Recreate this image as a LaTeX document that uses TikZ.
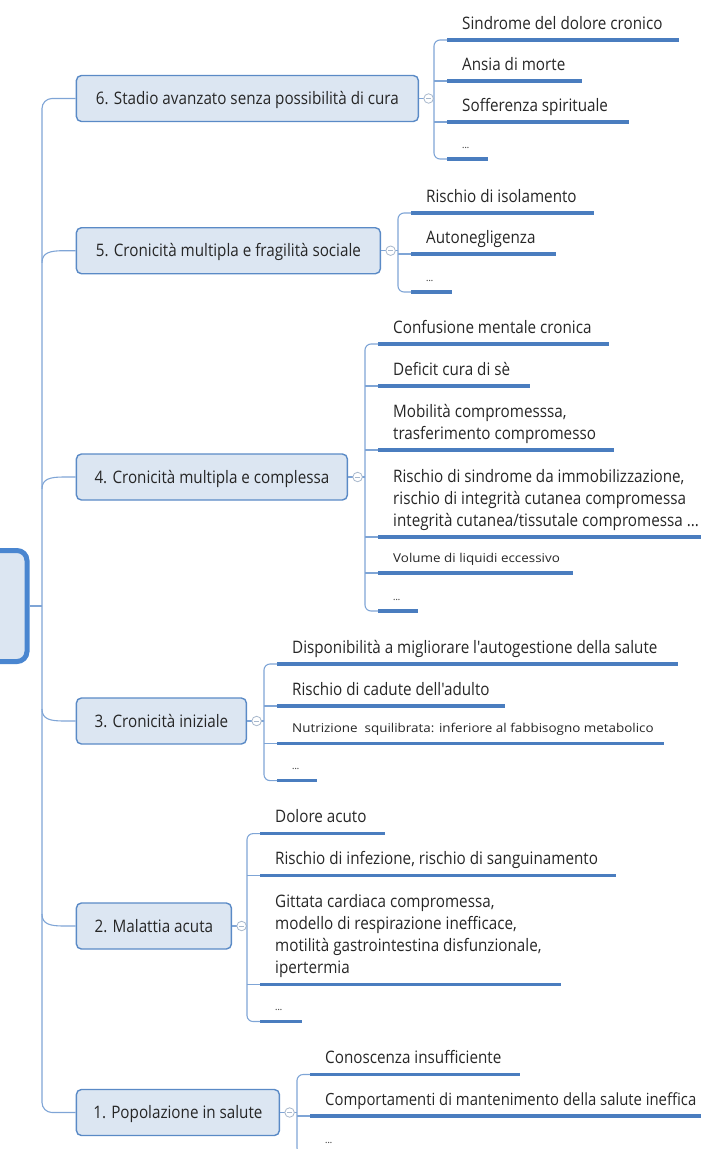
\documentclass[tikz,border=0pt]{standalone}
\usepackage{fontspec}
\setmainfont{Open Sans}[FakeStretch=0.885, Ligatures=TeXOff]
\newfontfamily\smallfont{Open Sans}[FakeStretch=1.1, Ligatures=TeXOff]
\definecolor{nodefill}{HTML}{DCE6F2}
\definecolor{nodeblue}{HTML}{5A8AC6}
\definecolor{rootblue}{HTML}{4A86D0}
\definecolor{connblue}{HTML}{7FA5D6}
\definecolor{ulblue}{HTML}{4A7DBF}
\definecolor{togglegray}{HTML}{A8B8CC}
\definecolor{txtgray}{HTML}{262626}
\newcommand\mainsz{\fontsize{17.2}{22}\selectfont}
\newcommand\edgesz{\fontsize{16.8}{22}\selectfont}
\newcommand\smallsz{\smallfont\fontsize{12.2}{15}\selectfont}
\newcommand\dotsz{\fontsize{10}{12}\selectfont}
\newcommand\leafentry[6]{% style, name, bx, uy, uend, text
  \coordinate (#2s) at (#3+13,#4);
  \draw[uline] (#2s) -- (#5,#4);
  \node[#1] (#2) at (#3+28,#4-11) {#6};
}
\begin{document}
\begin{tikzpicture}[x=1pt,y=-1pt,
  topic/.style={draw=nodeblue, line width=1.4pt, fill=nodefill, rounded corners=5pt,
    anchor=west, minimum height=46pt, inner sep=0pt, text height=12pt, text depth=0pt,
    font=\mainsz, text=txtgray},
  conn/.style={draw=connblue, line width=1.1pt},
  uline/.style={draw=ulblue, line width=3.2pt},
  leaf/.style={anchor=base west, inner sep=0pt, font=\mainsz, text=txtgray, align=left},
  edgeleaf/.style={leaf, font=\edgesz},
  smallleaf/.style={leaf, font=\smallsz},
  dotleaf/.style={leaf, font=\dotsz},
  toggle/.style={circle, draw=togglegray, fill=white, line width=0.8pt, minimum size=9.5pt,
    inner sep=0pt, path picture={\draw[togglegray, line width=0.7pt]
      ([xshift=-2.5pt]path picture bounding box.center) --
      ([xshift=2.5pt]path picture bounding box.center);}}
]
\useasboundingbox (0,0) rectangle (701,1149);
\clip (0,0) rectangle (701,1149);

% root
\node[draw=rootblue, line width=5pt, fill=nodefill, rounded corners=10pt,
  minimum width=120pt, minimum height=111pt, anchor=east, inner sep=0pt] (root) at (29.5,606) {};
\coordinate (trunk) at (42,606);

% topics
\node[topic, minimum width=342pt] (n6) at (75.7,98.5) {6. Stadio avanzato senza possibilità di cura};
\node[topic, minimum width=304pt] (n5) at (75.7,250.7) {5. Cronicità multipla e fragilità sociale};
\node[topic, minimum width=271pt] (n4) at (75.7,477) {4. Cronicità multipla e complessa};
\node[topic, minimum width=170pt] (n3) at (75.7,721) {3. Cronicità iniziale};
\node[topic, minimum width=155pt] (n2) at (75.7,926) {2. Malattia acuta};
\node[topic, minimum width=203pt] (n1) at (75.7,1112.5) {1. Popolazione in salute};

% trunk and branches
\draw[conn] (root.east) -- (trunk);
\draw[conn, rounded corners=10pt] (n6.west) -| (trunk) |- (n1.west);
\draw[conn] (n5.west) -- ++(-12,0) .. controls ++(-14,0) and ++(0,-10) .. (42,262.7);
\draw[conn] (n4.west) -- ++(-12,0) .. controls ++(-14,0) and ++(0,-10) .. (42,489);
\draw[conn] (n3.west) -- ++(-12,0) .. controls ++(-14,0) and ++(0,10) .. (42,709);
\draw[conn] (n2.west) -- ++(-12,0) .. controls ++(-14,0) and ++(0,10) .. (42,914);

% ---- group 6
\leafentry{leaf}{l61}{434}{40}{679}{Sindrome del dolore cronico}
\leafentry{leaf}{l62}{434}{81}{582}{Ansia di morte}
\leafentry{leaf}{l63}{434}{122}{629}{Sofferenza spirituale}
\leafentry{dotleaf}{l64}{434}{159}{488}{...}
\draw[conn] (n6.east) -- (434,98.5);
\draw[conn, rounded corners=6pt] (l61s) -- ++(-13,0) |- (l64s);
\draw[conn] (l62s) -- ++(-13,0);
\draw[conn] (l63s) -- ++(-13,0);
\node[toggle] (t6) at ([xshift=9.5pt]n6.east) {};

% ---- group 5
\leafentry{leaf}{l51}{398}{213}{594}{Rischio di isolamento}
\leafentry{leaf}{l52}{398}{254}{556}{Autonegligenza}
\leafentry{dotleaf}{l53}{398}{292}{452}{...}
\draw[conn] (n5.east) -- (398,250.7);
\draw[conn, rounded corners=6pt] (l51s) -- ++(-13,0) |- (l53s);
\draw[conn] (l52s) -- ++(-13,0);
\node[toggle] (t5) at ([xshift=9.5pt]n5.east) {};

% ---- group 4
\leafentry{leaf}{l41}{365}{344}{609}{Confusione mentale cronica}
\leafentry{leaf}{l42}{365}{386}{530}{Deficit cura di sè}
\leafentry{leaf}{l43}{365}{450}{614}{Mobilità compromesssa,\\trasferimento compromesso}
\leafentry{leaf}{l44}{365}{537}{720}{Rischio di sindrome da immobilizzazione,\\rischio di integrità cutanea compromessa\\integrità cutanea/tissutale compromessa ...}
\leafentry{smallleaf}{l45}{365}{573}{573}{Volume di liquidi eccessivo}
\leafentry{dotleaf}{l46}{365}{611}{418}{...}
\draw[conn] (n4.east) -- (365,477);
\draw[conn, rounded corners=6pt] (l41s) -- ++(-13,0) |- (l46s);
\draw[conn] (l42s) -- ++(-13,0);
\draw[conn] (l43s) -- ++(-13,0);
\draw[conn] (l44s) -- ++(-13,0);
\draw[conn] (l45s) -- ++(-13,0);
\node[toggle] (t4) at ([xshift=9.5pt]n4.east) {};

% ---- group 3
\leafentry{leaf}{l31}{264}{664}{678}{Disponibilità a migliorare l'autogestione della salute}
\leafentry{leaf}{l32}{264}{706}{505}{Rischio di cadute dell'adulto}
\leafentry{smallleaf}{l33}{264}{743.5}{664}{Nutrizione~ squilibrata: inferiore al fabbisogno metabolico}
\leafentry{dotleaf}{l34}{264}{780.6}{317}{...}
\draw[conn] (n3.east) -- (264,721);
\draw[conn, rounded corners=6pt] (l31s) -- ++(-13,0) |- (l34s);
\draw[conn] (l32s) -- ++(-13,0);
\draw[conn] (l33s) -- ++(-13,0);
\node[toggle] (t3) at ([xshift=9.5pt]n3.east) {};

% ---- group 2
\leafentry{leaf}{l21}{247}{833.6}{385}{Dolore acuto}
\leafentry{leaf}{l22}{247}{875.4}{616}{Rischio di infezione, rischio di sanguinamento}
\leafentry{leaf}{l23}{247}{984.4}{561}{Gittata cardiaca compromessa,\\modello di respirazione inefficace,\\motilità gastrointestina disfunzionale,\\ipertermia}
\leafentry{dotleaf}{l24}{247}{1021.5}{302}{...}
\draw[conn] (n2.east) -- (247,926);
\draw[conn, rounded corners=6pt] (l21s) -- ++(-13,0) |- (l24s);
\draw[conn] (l22s) -- ++(-13,0);
\draw[conn] (l23s) -- ++(-13,0);
\node[toggle] (t2) at ([xshift=9.5pt]n2.east) {};

% ---- group 1
\leafentry{leaf}{l11}{297}{1074.5}{520}{Conoscenza insufficiente}
\leafentry{edgeleaf}{l12}{297}{1116}{720}{Comportamenti di mantenimento della salute ineffica}
\leafentry{dotleaf}{l13}{297}{1154}{340}{...}
\draw[conn] (n1.east) -- (297,1112.5);
\draw[conn, rounded corners=6pt] (l11s) -- ++(-13,0) |- (l13s);
\draw[conn] (l12s) -- ++(-13,0);
\node[toggle] (t1) at ([xshift=9.5pt]n1.east) {};
\end{tikzpicture}
\end{document}
